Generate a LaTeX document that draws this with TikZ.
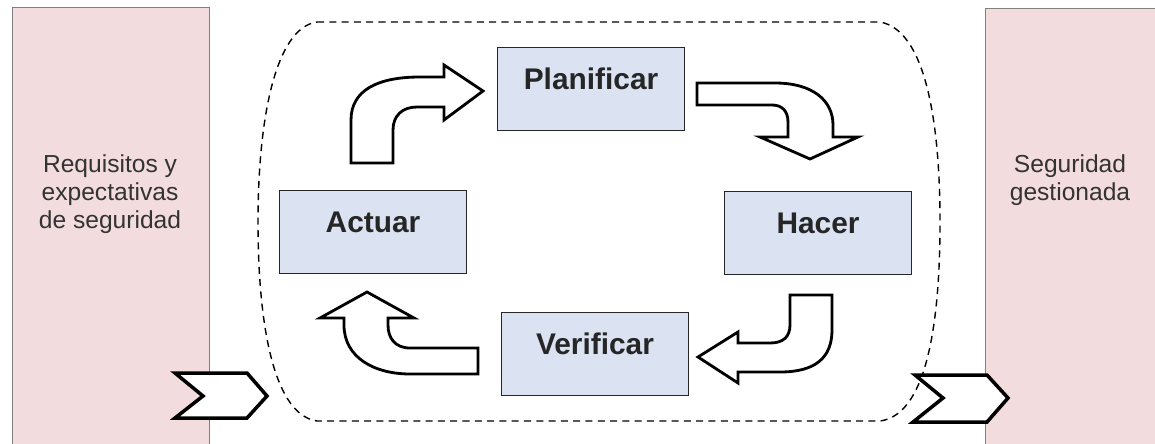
\documentclass[tikz,border=0pt]{standalone}
\usepackage{fontspec}
\setmainfont{Liberation Sans}
\definecolor{pinkbg}{RGB}{242,220,222}
\definecolor{boxblue}{RGB}{219,227,242}
\begin{document}
\begin{tikzpicture}[x=0.02cm, y=-0.02cm,
		side/.style={draw=gray, fill=pinkbg, line width=0.5pt, inner sep=0pt},
		sidetext/.style={align=center, text=black!80, font=\fontsize{14}{16}\selectfont},
		phase/.style={draw=black!85, fill=boxblue, line width=1pt, minimum width=3.74cm, minimum height=1.66cm,
			text height=0.45cm, text depth=0.45cm, text=black!85, font=\fontsize{17}{20}\selectfont\bfseries},
		bent/.style={draw=black, fill=white, line width=1.6pt, line join=miter},
		chevron/.style={draw=black, fill=white, line width=2pt, line join=miter}]
		\useasboundingbox (0,0) rectangle (1155,443);
		
		%input and output columns
		\node[side, minimum width=3.94cm, minimum height=9cm, anchor=north west] (input) at (12,7) {};
		\node[sidetext] (inputtext) at (110,194) {Requisitos y\\expectativas\\de seguridad};
		\node[side, minimum width=3.6cm, minimum height=9cm, anchor=north west] (output) at (985,8) {};
		\node[sidetext] (outputtext) at (1070,180) {Seguridad\\gestionada};
		
		%dashed boundary of the cycle
		\draw[line width=0.8pt, dash pattern=on 4pt off 3pt]
			(317,22) -- (880,22) .. controls (925,30) and (940,120) .. (940,222)
			.. controls (940,330) and (925,415) .. (880,421) -- (317,421)
			.. controls (275,415) and (258,330) .. (258,222)
			.. controls (258,120) and (275,28) .. (317,22);
		
		%phases
		\node[phase] (plan) at (591,89) {Planificar};
		\node[phase] (act) at (373,232) {Actuar};
		\node[phase] (do) at (818,233) {Hacer};
		\node[phase] (check) at (595,354) {Verificar};
		
		%bent arrows between phases
		\draw[bent] (351,163) -- (351,120) .. controls (351,90) and (378,77) .. (420,77) -- (444,77) -- (444,65)
			-- (483,91) -- (444,120) -- (444,107) -- (417,107) .. controls (402,107) and (393,116) .. (393,130) -- (393,163) -- cycle;
		\draw[bent] (697,83) -- (775,83) .. controls (812,83) and (833,100) .. (833,125) -- (833,137) -- (858,137)
			-- (810,159) -- (760,137) -- (788,137) -- (788,122) .. controls (788,111) and (782,105) .. (772,105) -- (697,105) -- cycle;
		\draw[bent] (790,295) -- (832,295) -- (832,330) .. controls (832,358) and (815,372) .. (780,372) -- (738,372) -- (738,383)
			-- (698,357) -- (738,332) -- (738,343) -- (770,343) .. controls (783,343) and (790,337) .. (790,325) -- cycle;
		\draw[bent] (478,348) -- (410,348) .. controls (395,348) and (388,338) .. (388,325) -- (388,318) -- (414,318)
			-- (367,292) -- (320,318) -- (344,318) -- (344,325) .. controls (344,358) and (375,374) .. (410,374) -- (478,374) -- cycle;
		
		%chevrons in and out
		\draw[chevron] (175,373) -- (247,373) -- (267,396) -- (247,418) -- (175,418) -- (203,396) -- cycle;
		\draw[chevron] (915,375) -- (987,375) -- (1008,398) -- (987,422) -- (913,422) -- (943,398) -- cycle;
\end{tikzpicture}
\end{document}
